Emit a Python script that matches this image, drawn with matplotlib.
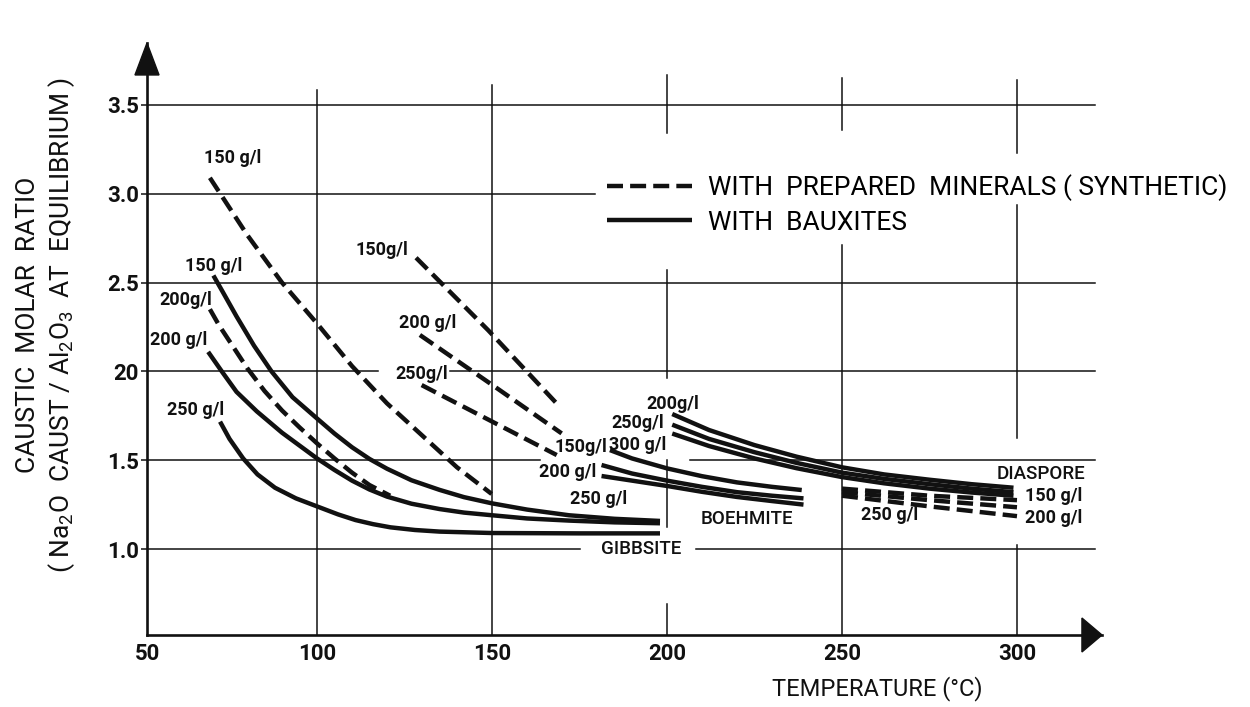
import matplotlib
matplotlib.use("Agg")
import matplotlib.pyplot as plt
from matplotlib.patches import Polygon
from matplotlib import font_manager

# ---------------- data (temperature degC, caustic molar ratio) ----------------
# Gibbsite region
gib_syn150_t = [69.4, 80, 90, 100, 110, 120, 130, 140, 149.9]
gib_syn150_r = [3.09, 2.77, 2.50, 2.27, 2.03, 1.82, 1.64, 1.46, 1.31]
gib_syn200_t = [69.4, 72, 75, 80, 85, 90, 95, 100, 105, 110, 115, 120.9]
gib_syn200_r = [2.35, 2.26, 2.17, 2.02, 1.89, 1.78, 1.685, 1.595, 1.51, 1.43, 1.36, 1.30]
gib_bx150_t = [70.4, 73, 77, 82, 87, 93, 100, 105, 110, 115, 120, 127, 135, 142, 150, 160, 172, 185, 198]
gib_bx150_r = [2.54, 2.45, 2.31, 2.145, 2.0, 1.855, 1.735, 1.65, 1.573, 1.507, 1.452, 1.387,
               1.333, 1.292, 1.257, 1.222, 1.19, 1.17, 1.158]
gib_bx200_t = [68.9, 72.8, 77, 82.8, 90, 100, 105, 110, 115, 120, 127, 135, 142, 150, 160, 172, 185, 198]
gib_bx200_r = [2.11, 2.0, 1.885, 1.775, 1.655, 1.51, 1.445, 1.385, 1.335, 1.295, 1.255, 1.225,
               1.205, 1.19, 1.172, 1.16, 1.15, 1.145]
gib_bx250_t = [72.3, 75, 78.9, 83, 88, 94, 100, 106, 111, 116, 121, 128, 135, 150, 175, 198]
gib_bx250_r = [1.717, 1.62, 1.51, 1.42, 1.345, 1.285, 1.24, 1.195, 1.163, 1.14, 1.122, 1.107,
               1.098, 1.09, 1.088, 1.088]

# Boehmite region
bo_syn150_t = [128.3, 149, 169.4]
bo_syn150_r = [2.64, 2.23, 1.80]
bo_syn200_t = [129.4, 149.4, 169.9]
bo_syn200_r = [2.205, 1.933, 1.651]
bo_syn250_t = [129.9, 149.2, 168.5]
bo_syn250_r = [1.923, 1.726, 1.529]
bo_bx150_t = [183.7, 190, 200, 210, 220, 230, 238.5]
bo_bx150_r = [1.557, 1.51, 1.454, 1.41, 1.375, 1.35, 1.332]
bo_bx200_t = [181.3, 190, 200, 210, 220, 230, 239]
bo_bx200_r = [1.473, 1.425, 1.385, 1.35, 1.32, 1.30, 1.285]
bo_bx250_t = [181.3, 190, 200, 210, 220, 230, 239]
bo_bx250_r = [1.411, 1.385, 1.355, 1.322, 1.293, 1.27, 1.25]

# Diaspore region
di_bx_t = [201.5, 212, 225, 237, 250, 262, 275, 287, 299]
di_bx200_r = [1.76, 1.67, 1.585, 1.52, 1.46, 1.42, 1.39, 1.365, 1.345]
di_bx250_r = [1.70, 1.62, 1.545, 1.485, 1.43, 1.395, 1.365, 1.34, 1.32]
di_bx300_r = [1.65, 1.58, 1.51, 1.455, 1.405, 1.37, 1.34, 1.318, 1.30]
di_syn_t = [250, 275, 300]
di_syn150_r = [1.34, 1.30, 1.275]
di_syn250_r = [1.32, 1.275, 1.235]
di_syn200_r = [1.30, 1.24, 1.185]

# axis ticks
x_tick_labels = ["50", "100", "150", "200", "250", "300"]
y_tick_values = [1.0, 1.5, 2.0, 2.5, 3.0, 3.5]
y_tick_labels = ["1.0", "1.5", "20", "2.5", "3.0", "3.5"]

# curve annotations: text, temperature, ratio
ann_text = ["150 g/l", "150 g/l", "200g/l", "200 g/l", "250 g/l",
            "150g/l", "200 g/l", "250g/l",
            "200g/l", "250g/l", "300 g/l", "150g/l", "200 g/l", "250 g/l",
            "250 g/l", "150 g/l", "200 g/l"]
ann_t = [75.9, 70.6, 62.6, 60.4, 65.4,
         118.6, 131.6, 129.9,
         201.6, 191.6, 191.6, 175.3, 171.6, 180.4,
         263.7, 310.4, 310.4]
ann_r = [3.20, 2.593, 2.40, 2.177, 1.783,
         2.684, 2.275, 1.983,
         1.819, 1.712, 1.585, 1.574, 1.434, 1.284,
         1.191, 1.30, 1.172]

# ---------------- style ----------------
names = set(f.name for f in font_manager.fontManager.ttflist)
MAIN = "Roboto" if "Roboto" in names else "DejaVu Sans"
FONT = [MAIN, "DejaVu Sans"]
plt.rcParams["font.family"] = FONT
plt.rcParams["mathtext.fontset"] = "custom"
plt.rcParams["mathtext.rm"] = MAIN
plt.rcParams["mathtext.it"] = MAIN

K = "#111111"
LW = 3.2
DASH = (3.6, 1.6)
GRID_LW = 1.1

X0, X1 = 51.43, 324.29
Y0, Y1 = 0.5158, 3.849
GRID_END = 322.3

fig = plt.figure(figsize=(12.5, 7.07), dpi=100)
ax = fig.add_axes([147 / 1250, 72 / 707, 955 / 1250, 592 / 707])
ax.set_xlim(X0, X1)
ax.set_ylim(Y0, Y1)

# grid (hand-broken like the drawing)
hseg = [(3.5, [(X0, GRID_END)]),
        (3.0, [(X0, 179.4)]),
        (2.5, [(X0, GRID_END)]),
        (2.0, [(X0, 117.4), (138.0, GRID_END)]),
        (1.5, [(X0, 163.7), (206.6, GRID_END)]),
        (1.0, [(X0, 175.1), (208.3, GRID_END)])]
for yv, segs in hseg:
    for a, b in segs:
        ax.plot([a, b], [yv, yv], color=K, lw=GRID_LW, zorder=1)
vseg = [(100, [(Y0, 3.584)]),
        (150, [(Y0, 3.613)]),
        (200, [(3.342, 3.669), (1.963, 2.571), (1.124, 1.501), (Y0, 0.69)]),
        (250, [(3.36, 3.652), (Y0, 2.71)]),
        (300, [(3.23, 3.641), (1.625, 2.937), (Y0, 1.02)])]
for xv, segs in vseg:
    for a, b in segs:
        ax.plot([xv, xv], [a, b], color=K, lw=GRID_LW, zorder=1)

def solid(t, r):
    return ax.plot(t, r, color=K, lw=LW, solid_capstyle="butt",
                   solid_joinstyle="round", zorder=3)[0]

def dashed(t, r):
    l, = ax.plot(t, r, color=K, lw=LW, zorder=3, dash_capstyle="butt",
                 dash_joinstyle="round")
    l.set_dashes(DASH)
    return l

hd = dashed(gib_syn150_t, gib_syn150_r)
dashed(gib_syn200_t, gib_syn200_r)
hs = solid(gib_bx150_t, gib_bx150_r)
solid(gib_bx200_t, gib_bx200_r)
solid(gib_bx250_t, gib_bx250_r)
dashed(bo_syn150_t, bo_syn150_r)
dashed(bo_syn200_t, bo_syn200_r)
dashed(bo_syn250_t, bo_syn250_r)
solid(bo_bx150_t, bo_bx150_r)
solid(bo_bx200_t, bo_bx200_r)
solid(bo_bx250_t, bo_bx250_r)
solid(di_bx_t, di_bx200_r)
solid(di_bx_t, di_bx250_r)
solid(di_bx_t, di_bx300_r)
dashed(di_syn_t, di_syn150_r)
dashed(di_syn_t, di_syn250_r)
dashed(di_syn_t, di_syn200_r)

LFS = 13
for s, t, r in zip(ann_text, ann_t, ann_r):
    ax.text(t, r, s, fontsize=LFS, fontweight="bold", ha="center", va="center",
            color=K, zorder=4)

ax.text(192.7, 1.0, "GIBBSITE", fontsize=13.5, fontweight="medium",
        ha="center", va="center", color=K)
ax.text(222.9, 1.169, "BOEHMITE", fontsize=13.5, fontweight="medium",
        ha="center", va="center", color=K)
ax.text(307.0, 1.42, "DIASPORE", fontsize=13.5, fontweight="medium",
        ha="center", va="center", color=K)

# spines, ticks
for s in ["top", "right"]:
    ax.spines[s].set_visible(False)
for s in ["left", "bottom"]:
    ax.spines[s].set_linewidth(1.9)
    ax.spines[s].set_color(K)
ax.set_xticks([X0, 100, 150, 200, 250, 300])
ax.set_xticklabels(x_tick_labels, fontweight="bold")
ax.set_yticks(y_tick_values)
ax.set_yticklabels(y_tick_labels, fontweight="bold")
ax.tick_params(axis="x", length=0, pad=6, labelsize=16, colors=K)
ax.tick_params(axis="y", length=4, width=1.1, pad=2, labelsize=16, colors=K)

# arrow heads
ax.add_patch(Polygon([[0, 1.0], [-0.0126, 0.946], [0.0126, 0.946]], closed=True,
                     transform=ax.transAxes, color=K, clip_on=False, zorder=5))
ax.add_patch(Polygon([[1.0, 0.0], [0.979, 0.0287], [0.979, -0.0287]], closed=True,
                     transform=ax.transAxes, color=K, clip_on=False, zorder=5))

# axis titles
fig.text(877 / 1250, 1 - 689 / 707, "TEMPERATURE (°C)", fontsize=17,
         ha="center", va="center", color=K)
fig.text(28 / 1250, 1 - 325 / 707, "CAUSTIC  MOLAR  RATIO", fontsize=19,
         rotation=90, ha="center", va="center", color=K)
fig.text(62 / 1250, 1 - 325 / 707,
         r"( Na$_\mathregular{2}$O  CAUST / Al$_\mathregular{2}$O$_\mathregular{3}$  AT  EQUILIBRIUM )",
         fontsize=19, rotation=90, ha="center", va="center", color=K)

# legend
ax.legend([hd, hs], ["WITH  PREPARED  MINERALS ( SYNTHETIC)", "WITH  BAUXITES"],
          loc="upper left", bbox_to_anchor=(0.482, 0.778), frameon=False,
          fontsize=19, handlelength=3.2, handletextpad=0.6, labelspacing=0.35,
          borderpad=0, borderaxespad=0)

fig.savefig("out.png", dpi=100)
